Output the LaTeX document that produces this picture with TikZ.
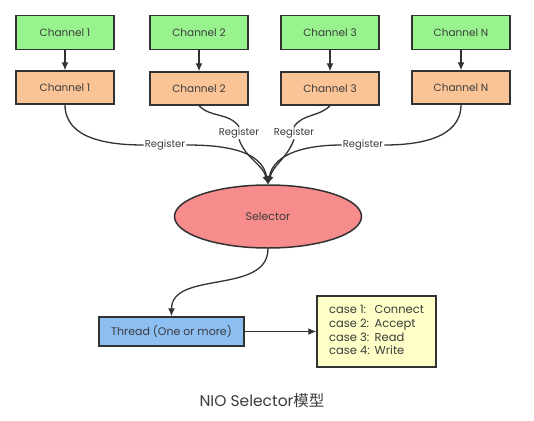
\documentclass[tikz,border=0pt]{standalone}
\usepackage{fontspec}
\setmainfont{Poppins}
\newfontfamily\cjk{Noto Sans CJK SC}
\usetikzlibrary{arrows.meta,shapes.geometric}
\definecolor{gfill}{RGB}{152,242,142}
\definecolor{ofill}{RGB}{250,196,150}
\definecolor{sfill}{RGB}{246,140,140}
\definecolor{tfill}{RGB}{140,190,242}
\definecolor{cfill}{RGB}{255,255,200}
\definecolor{bord}{RGB}{50,50,50}
\definecolor{txt}{RGB}{60,60,60}
\begin{document}
\begin{tikzpicture}[x=1pt,y=-1pt,
  box/.style={draw=bord, line width=1.5pt, minimum width=98pt, minimum height=34pt, inner sep=0pt, font=\fontsize{10.5}{12}\selectfont, text=txt},
  gbox/.style={box, fill=gfill},
  obox/.style={box, fill=ofill, minimum height=33pt},
  reg/.style={fill=white, inner sep=1pt, font=\fontsize{10}{12}\selectfont, text=txt},
  conn/.style={draw=bord, line width=1.3pt},
  arr/.style={conn, -{Latex[length=8pt,width=7pt]}}]
\useasboundingbox[fill=white] (0,0) rectangle (534,420);
% channels
\node[gbox] (g1) at (65,32.5) {Channel 1};
\node[gbox] (g2) at (199,32.5) {Channel 2};
\node[gbox] (g3) at (330,32.5) {Channel 3};
\node[gbox] (g4) at (461,32.5) {Channel N};
\node[obox] (o1) at (65,87.5) {Channel 1};
\node[obox] (o2) at (199,88.5) {Channel 2};
\node[obox] (o3) at (330,88.5) {Channel 3};
\node[obox] (o4) at (461,87.5) {Channel N};
\foreach \i in {1,2,3,4} \draw[arr] (g\i) -- (o\i);
% selector
\node[ellipse, draw=bord, line width=1.5pt, fill=sfill, minimum width=187pt, minimum height=63pt, inner sep=0pt, font=\fontsize{11}{13}\selectfont, text=txt] (sel) at (268,216.5) {Selector};
% register labels
\node[reg] (r1) at (165,145) {Register};
\node[reg] (r2) at (239,133) {Register};
\node[reg] (r3) at (294,133) {Register};
\node[reg] (r4) at (363,145) {Register};
\draw[conn] (o1.south) to[out=-90,in=180] (r1.west);
\draw[arr] (r1.east) to[out=0,in=100] (sel.north);
\draw[conn] (o2.south) to[out=-45,in=125] (r2.north);
\draw[arr] (r2.south) to[out=-70,in=105] (sel.north);
\draw[conn] (o3.south) to[out=-135,in=55] (r3.north);
\draw[arr] (r3.south) to[out=-110,in=75] (sel.north);
\draw[conn] (o4.south) to[out=-90,in=0] (r4.east);
\draw[arr] (r4.west) to[out=180,in=80] (sel.north);
% thread and cases
\node[box, fill=tfill, minimum width=145pt, minimum height=29pt, font=\fontsize{11}{13}\selectfont] (th) at (171.5,331.5) {Thread (One or more)};
\node[box, fill=cfill, minimum width=119pt, minimum height=71pt, font=\fontsize{11.5}{13.7}\selectfont] (cs) at (376.5,331.5) {%
  \begin{tabular}{@{}l@{\hspace{5pt}}l@{}}case 1: & Connect\\ case 2: & Accept\\ case 3: & Read\\ case 4: & Write\end{tabular}};
\draw[arr] (sel.south) to[out=-90,in=90] (th.north);
\draw[arr] (th.east) -- (cs.west);
% caption
\node[font=\fontsize{15.5}{18}\selectfont, text=txt] (cap) at (262,401) {NIO Selector{\cjk 模型}};
\end{tikzpicture}
\end{document}
